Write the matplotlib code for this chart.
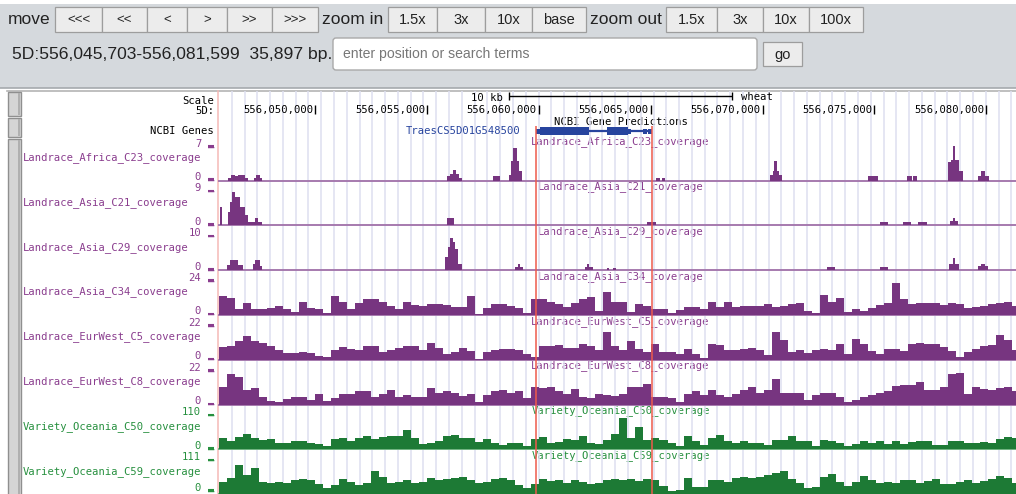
import numpy as np
import matplotlib
matplotlib.use('Agg')
import matplotlib.pyplot as plt
from matplotlib.patches import Rectangle, FancyBboxPatch

# ---------------------------------------------------------------- data
chrom = '5D'
view_start = 556_045_703
view_end = 556_081_599
view_span_bp = view_end - view_start + 1
axis_ticks = [556_050_000, 556_055_000, 556_060_000, 556_065_000,
              556_070_000, 556_075_000, 556_080_000]
scale_bar_bp = 10_000
scale_bar_label = '10 kb'
assembly = 'wheat'

gene_name = 'TraesCS5D01G548500'
gene_track_title = 'NCBI Gene Predictions'
gene_track_label = 'NCBI Genes'
# gene model, offsets (bp) from view_start
gene_start_off = 14170
gene_end_off = 19355
cds_start_off = [14349, 17344]
cds_end_off = [16539, 18282]
utr_start_off = [14170, 18282, 18953, 19177]
utr_end_off = [14349, 18416, 19132, 19355]
highlight_off = [14170, 19355]

track_names = ['Landrace_Africa_C23_coverage', 'Landrace_Asia_C21_coverage',
               'Landrace_Asia_C29_coverage', 'Landrace_Asia_C34_coverage',
               'Landrace_EurWest_C5_coverage', 'Landrace_EurWest_C8_coverage',
               'Variety_Oceania_C50_coverage', 'Variety_Oceania_C59_coverage']
track_max = [7, 9, 10, 24, 22, 22, 110, 111]
track_group = ['landrace'] * 6 + ['variety'] * 2

# sparse tracks: intervals (offset bp from view_start) and coverage
c23_start = [403, 537, 716, 850, 1163, 1566, 1655, 1834, 10198, 10332, 10467, 10601, 10735,
             12256, 12972, 13061, 13151, 13330, 13419, 19547, 19815, 24646, 24780, 24825,
             24959, 25049, 29030, 30774, 31043, 32608, 32742, 32832, 32921, 33100, 33905,
             34040, 34219]
c23_end = [537, 716, 850, 1163, 1297, 1655, 1834, 1923, 10332, 10467, 10601, 10735, 10869,
           12569, 13061, 13151, 13330, 13419, 13553, 19725, 19949, 24780, 24825, 24959,
           25049, 25184, 29477, 30998, 31222, 32742, 32832, 32921, 33100, 33235, 34040,
           34219, 34397]
c23_cov = [0.6, 1.1, 0.9, 1.1, 0.6, 0.5, 1.1, 0.5, 0.9, 1.4, 2.1, 1.4, 0.6, 0.9, 1.2, 4.0,
           6.6, 4.0, 2.0, 0.6, 0.5, 1.2, 2.0, 3.9, 2.0, 1.2, 0.9, 0.9, 0.9, 3.7, 4.2, 6.9,
           4.2, 2.0, 0.9, 2.0, 0.9]

c21_start = [45, 403, 492, 582, 716, 939, 1163, 1297, 1610, 1744, 10198, 19144, 29567,
             30595, 31266, 32697, 32832, 32921]
c21_end = [134, 492, 582, 716, 939, 1163, 1297, 1610, 1744, 1923, 10512, 19547, 29925,
           30953, 31669, 32832, 32921, 33011]
c21_cov = [4.8, 3.5, 6.0, 8.6, 7.4, 4.9, 2.6, 0.9, 1.8, 0.9, 1.9, 0.9, 0.9, 0.9, 0.9,
           1.2, 2.0, 1.2]

c29_start = [358, 492, 850, 1521, 1610, 1834, 10109, 10243, 10332, 10467, 10556, 10690,
             13240, 13374, 13464, 16371, 16461, 16550, 17355, 17624, 27196, 29567, 32653,
             32832, 32921, 33905, 34040, 34219]
c29_end = [492, 850, 1074, 1610, 1834, 1923, 10243, 10332, 10467, 10556, 10690, 10869,
           13374, 13464, 13598, 16461, 16550, 16729, 17445, 17758, 27554, 29925, 32832,
           32921, 33056, 34040, 34219, 34353]
c29_cov = [1.5, 2.9, 1.5, 1.8, 2.8, 1.3, 3.7, 6.7, 9.4, 8.0, 6.0, 1.8, 1.0, 1.8, 1.0,
           1.0, 1.8, 1.0, 0.6, 0.6, 1.0, 1.0, 1.9, 3.6, 1.9, 1.2, 1.8, 1.2]

# dense tracks: mean coverage in consecutive bins
cov_bin_bp = 358
c34_cov = [13, 12, 4, 8, 4, 4, 5, 6, 4, 2, 9, 5, 4, 1, 13, 9, 4, 8, 11, 11, 9, 6, 4, 9, 7,
           6.5, 7.7, 7.7, 7, 5.4, 5.8, 12.8, 0.5, 5, 7.7, 7.7, 6.5, 5, 1, 11, 11, 8.8, 7.7,
           5.8, 8, 11, 12.3, 3, 16, 8.8,
           9, 2, 7.7, 6.5, 4.2, 4.2, 1.4, 3.5, 5.8, 5.4, 4.2, 8.8, 5.8, 8.8, 5.4, 6.5, 6.5,
           6.5, 7.7, 5.4, 6.5, 7.7, 8, 2.5, 1,
           14, 8.8, 12, 2, 4.2, 2.6, 5, 7.2, 8.2, 22, 11, 7.7, 8.4, 8.4, 8.2, 7.2, 8.2, 7.7,
           5, 5.8, 6.5, 7.7, 8.6, 8.8, 6.5]
c5_cov = [8, 9, 12, 15, 12, 10.5, 8.5, 6, 4, 4.3, 5, 4, 2.5, 2, 6, 8, 7, 6.5, 9, 8.5, 5,
          6.5, 7.7, 8.5, 9,
          6, 10.7, 7.7, 3.9, 5, 7.7, 5.6, 0.7, 5, 6, 7, 7, 6.4, 3.4, 2, 8.5, 9, 9.2, 7.7,
          7.7, 9.8, 8.5, 6, 17.8, 8.5,
          6, 12, 7, 5, 9.8, 5, 5, 3.9, 7, 3.9, 1.3, 9.8, 9.2, 6, 6, 7, 7.7, 6.4, 2.8, 17.8,
          12.4, 5, 6, 4.3, 6,
          6.8, 6, 9.8, 3.9, 13.5, 10.3, 5.6, 3.9, 7, 7, 5.3, 9.8, 10.7, 10.3, 9.8, 8, 5.6,
          2, 5, 7, 8.5, 9.4, 15.6, 12.8, 6]
c8_cov = [11.4, 19.5, 17.4, 9.3, 10.4, 5, 2.5, 1.3, 3.4, 4.7, 4.7, 3, 6.8, 2.5, 4, 6.8,
          6.8, 8.9, 8.3, 5, 6.8, 9.3, 5, 6, 5,
          4.7, 10.4, 7.2, 8.3, 7.6, 5.5, 6.8, 1.3, 6, 8.3, 9.3, 7.2, 8.9, 4, 11.4, 10.4,
          11.4, 8.3, 6.8, 9.8, 5, 4, 6.8, 6, 5.5,
          6.8, 11.4, 11.4, 13, 5, 5, 4, 1.9, 6.8, 8.3, 6, 9.3, 6, 5, 6.8, 9.3, 11.4, 7.2,
          9.3, 16, 7.6, 7.2, 7.6, 3, 6,
          7.6, 7.6, 5, 1.9, 3, 4.7, 6, 7.2, 8.9, 11.9, 12.5, 12.5, 14.6, 9.3, 9.3, 11.4,
          19.5, 20, 6.8, 11.4, 9.8, 9.3, 10.4, 11, 8.3]
c50_cov = [35, 25, 38, 49, 35, 30, 32, 19, 21, 25, 28, 19, 17, 9, 32, 35, 28, 35, 41, 32,
           38, 43, 41, 60, 35,
           17, 19, 28, 41, 46, 37, 35, 22, 32, 19, 15, 19, 19, 11, 32, 38, 21, 22, 32, 30,
           41, 21, 16, 30, 49,
           100, 35, 70, 30, 35, 30, 19, 11, 41, 28, 14, 35, 46, 28, 19, 25, 19, 19, 14, 30,
           30, 41, 25, 28, 11,
           30, 25, 19, 11, 17, 28, 21, 25, 17, 28, 17, 22, 26, 25, 15, 14, 28, 25, 21, 21,
           23, 21, 32, 38, 35]
c59_cov = [40, 51, 95, 62, 84, 40, 35, 40, 37, 44, 48, 46, 33, 19, 29, 48, 40, 29, 35, 73,
           55, 35, 39, 46, 35,
           40, 51, 44, 48, 51, 55, 44, 35, 40, 50, 51, 44, 29, 19, 33, 48, 41, 44, 37, 46,
           40, 33, 35, 46, 49,
           46, 50, 41, 48, 46, 26, 11, 13, 51, 24, 24, 44, 46, 40, 51, 55, 51, 55, 62, 68,
           73, 48, 37, 19, 24,
           55, 65, 40, 26, 40, 59, 44, 37, 40, 37, 46, 44, 37, 43, 48, 33, 33, 39, 44, 35,
           41, 48, 57, 51, 37]

sparse_data = {0: (c23_start, c23_end, c23_cov),
               1: (c21_start, c21_end, c21_cov),
               2: (c29_start, c29_end, c29_cov)}
dense_data = {3: c34_cov, 4: c5_cov, 5: c8_cov, 6: c50_cov, 7: c59_cov}

move_buttons = ['<<<', '<<', '<', '>', '>>', '>>>']
zoom_in_buttons = ['1.5x', '3x', '10x', 'base']
zoom_out_buttons = ['1.5x', '3x', '10x', '100x']
placeholder = 'enter position or search terms'

# ---------------------------------------------------------------- layout / style
W, H = 1016, 494
X0, X1 = 219, 1016            # data area in pixels
BP_PER_PX = 44.7
xlim = (view_start, view_start + (X1 - X0) * BP_PER_PX)
GUIDE_BP = 12.78 * BP_PER_PX
MONO = 'DejaVu Sans Mono'
SANS = 'Liberation Sans'
FS = 7.6
PURPLE_FILL = '#773580'
PURPLE_TEXT = '#8a3d8e'
PURPLE_LINE = '#a67aae'
GREEN_FILL = '#1d7a35'
GREEN_TEXT = '#27903f'
GREEN_LINE = '#6fb27f'
GENE_C = '#27449e'
TOOL_BG = '#d5d9dd'

fig = plt.figure(figsize=(W / 100, H / 100), dpi=100)
fig.patch.set_facecolor('white')


def px_rect(x0, y0, x1, y1):
    return [x0 / W, 1 - y1 / H, (x1 - x0) / W, (y1 - y0) / H]


ui = fig.add_axes([0, 0, 1, 1], zorder=0)
ui.set_xlim(0, W)
ui.set_ylim(H, 0)
ui.axis('off')

# ---- toolbar
ui.add_patch(Rectangle((0, 4), W, 84, fc=TOOL_BG, ec='none', zorder=1))
ui.plot([0, W], [88, 88], color='#a6aaae', lw=1.2, zorder=2)


def button(x0, x1, y0, y1, label, fs=10.5):
    ui.add_patch(Rectangle((x0, y0), x1 - x0, y1 - y0, fc='#ececec', ec='#9d9d9d',
                           lw=0.9, zorder=2))
    ui.text((x0 + x1) / 2, (y0 + y1) / 2 + 0.5, label, ha='center', va='center',
            fontsize=fs, family=SANS, color='#222222', zorder=3)


by0, by1 = 7, 32
ui.text(8, 20, 'move', ha='left', va='center', fontsize=12.5, family=SANS,
        color='#222222', zorder=3)
for (x0, x1), lab in zip([(55, 102), (102, 147), (147, 187), (187, 227), (227, 272),
                          (272, 318)], move_buttons):
    button(x0, x1, by0, by1, lab, fs=9.5)
ui.text(352.5, 20, 'zoom in', ha='center', va='center', fontsize=12.5, family=SANS,
        color='#222222', zorder=3)
for (x0, x1), lab in zip([(388, 437), (437, 485), (485, 532), (532, 586)], zoom_in_buttons):
    button(x0, x1, by0, by1, lab)
ui.text(625.5, 20, 'zoom out', ha='center', va='center', fontsize=12.5, family=SANS,
        color='#222222', zorder=3)
for (x0, x1), lab in zip([(666, 717), (717, 763), (763, 809), (809, 863)], zoom_out_buttons):
    button(x0, x1, by0, by1, lab)

pos_text = f'{chrom}:{view_start:,}-{view_end:,}  {view_span_bp:,} bp.'
ui.text(12, 54, pos_text, ha='left', va='center', fontsize=12.6, family=SANS,
        color='#222222', zorder=3)
ui.add_patch(FancyBboxPatch((333, 38), 424, 32, boxstyle='round,pad=0,rounding_size=3',
                            fc='white', ec='#a9a9a9', lw=1, zorder=2))
ui.text(343, 54, placeholder, ha='left', va='center', fontsize=10.1, family=SANS,
        color='#777777', zorder=3)
button(763, 802, 42, 66, 'go')

# ---- browser image frame
ui.plot([7, W], [91, 91], color='#b4b4b4', lw=1.2, zorder=2)
for y0, y1 in [(92, 116), (118, 137), (139, 496)]:
    ui.add_patch(Rectangle((7.5, y0), 13, y1 - y0, fc='#d5d5d5', ec='#8f8f8f', lw=1.0,
                           zorder=2))
    ui.add_patch(Rectangle((17.5, y0 + 1), 2.5, y1 - y0 - 2, fc='#b0b0b0', ec='none',
                           zorder=2))
ui.plot([217.5, 217.5], [91, H], color='#f5b9b6', lw=1.1, zorder=2)

# left labels of ruler & gene track
ui.text(214, 104, 'Scale', ha='right', va='baseline', fontsize=FS, family=MONO, color='k')
ui.text(214, 114, f'{chrom}:', ha='right', va='baseline', fontsize=FS, family=MONO, color='k')
ui.text(214, 134, gene_track_label, ha='right', va='baseline', fontsize=FS, family=MONO,
        color='k')
ui.text(620.5, 124.8, gene_track_title, ha='center', va='baseline', fontsize=FS,
        family=MONO, color='k', zorder=5)

# ---- canvas (guides, ruler, gene)
canvas = fig.add_axes(px_rect(X0, 91, X1, H), zorder=1)
canvas.set_xlim(*xlim)
canvas.set_ylim(H, 91)
canvas.axis('off')
k = 1
while view_start + k * GUIDE_BP < xlim[1]:
    canvas.axvline(view_start + k * GUIDE_BP, color='#dedff0', lw=1.1, zorder=0)
    k += 1

for t in axis_ticks:
    canvas.vlines(t, 105.5, 114.5, color='k', lw=1.0)
    canvas.annotate(f'{t:,}', (t, 113), xytext=(-2, 0), textcoords='offset pixels',
                    ha='right', va='baseline', fontsize=FS, family=MONO, color='k')

sb_center = view_start + view_span_bp / 2
sb0, sb1 = sb_center - scale_bar_bp / 2, sb_center + scale_bar_bp / 2
canvas.hlines(96, sb0, sb1, color='k', lw=1.0)
canvas.vlines([sb0, sb1], 92, 100, color='k', lw=1.0)
canvas.annotate(scale_bar_label, (sb0, 100.5), xytext=(-6, 0), textcoords='offset pixels',
                ha='right', va='baseline', fontsize=FS, family=MONO, color='k')
canvas.annotate(assembly, (sb1, 99.5), xytext=(9, 0), textcoords='offset pixels',
                ha='left', va='baseline', fontsize=FS, family=MONO, color='k')

gs, ge = view_start + gene_start_off, view_start + gene_end_off
canvas.hlines(131, gs, ge, color=GENE_C, lw=1.6, zorder=3)
for s, e in zip(cds_start_off, cds_end_off):
    canvas.add_patch(Rectangle((view_start + s, 127), e - s, 8, fc=GENE_C, ec='none',
                               zorder=3))
for s, e in zip(utr_start_off, utr_end_off):
    canvas.add_patch(Rectangle((view_start + s, 128.5), e - s, 5, fc=GENE_C, ec='none',
                               zorder=3))
canvas.annotate(gene_name, (gs, 134), xytext=(-15, 0), textcoords='offset pixels',
                ha='right', va='baseline', fontsize=FS, family=MONO, color=GENE_C)

# ---- coverage tracks
edges = view_start + cov_bin_bp * np.arange(101)
n_tracks = len(track_names)
for i, name in enumerate(track_names):
    b = 180.5 + 44.8 * i
    top = b - 34.5
    is_var = track_group[i] == 'variety'
    fc = GREEN_FILL if is_var else PURPLE_FILL
    tc = GREEN_TEXT if is_var else PURPLE_TEXT
    lc = GREEN_LINE if is_var else PURPLE_LINE
    ax = fig.add_axes(px_rect(X0, top, X1, b), zorder=2)
    ax.set_xlim(*xlim)
    ax.set_ylim(0, track_max[i])
    ax.axis('off')
    ax.axhline(0, color=lc, lw=1.4, clip_on=False, zorder=1)
    if i in sparse_data:
        st, en, cv = sparse_data[i]
        st = np.array(st)
        en = np.array(en)
        ax.bar(view_start + st, cv, width=en - st, align='edge', color=fc, lw=0, zorder=2)
    else:
        ax.stairs(dense_data[i], edges, fill=True, color=fc, lw=0, zorder=2)

    # labels
    ui.text(22.5, b - 20.5, name, ha='left', va='baseline', fontsize=FS, family=MONO,
            color=tc)
    y_max_lab = b - 34
    y_zero_lab = b - 0.5 if i < n_tracks - 1 else b - 3.5
    for yl, num in [(y_max_lab, f'{track_max[i]}'), (y_zero_lab, '0')]:
        ui.text(201.2, yl, num, ha='right', va='baseline', fontsize=FS, family=MONO,
                color=tc)
        ui.text(214, yl - 1.2, '_', ha='right', va='baseline', fontsize=FS, family=MONO,
                fontweight='bold', color=tc)
        ui.plot([207.5, 213.5], [yl - 0.5, yl - 0.5], color=tc, lw=1.5, zorder=3,
                solid_capstyle='butt')
    ui.text(620.5, b - 36, name, ha='center', va='baseline', fontsize=FS, family=MONO,
            color=tc, zorder=5)

# ---- highlight lines on top
front = fig.add_axes(px_rect(X0, 91, X1, H), zorder=3)
front.set_xlim(*xlim)
front.set_ylim(H, 91)
front.axis('off')
front.vlines([view_start + h for h in highlight_off], 126, H, color='#ee5a4c', lw=1.1)

fig.savefig('out.png', dpi=100)
